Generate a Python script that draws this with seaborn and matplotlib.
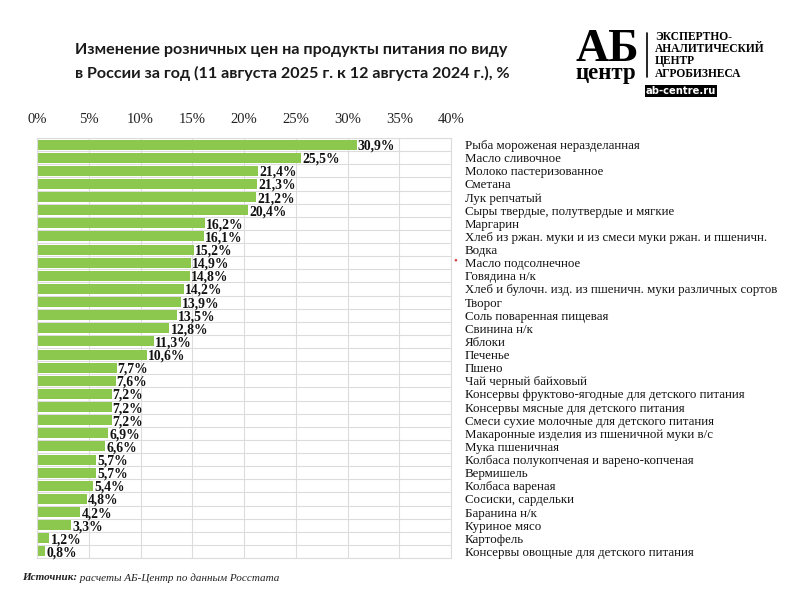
import matplotlib
matplotlib.use("Agg")
import matplotlib.pyplot as plt
import seaborn as sns
import pandas as pd
import numpy as np
from matplotlib.patches import Rectangle

categories = [
    "Рыба мороженая неразделанная",
    "Масло сливочное",
    "Молоко пастеризованное",
    "Сметана",
    "Лук репчатый",
    "Сыры твердые, полутвердые и мягкие",
    "Маргарин",
    "Хлеб из ржан. муки и из смеси муки ржан. и пшеничн.",
    "Водка",
    "Масло подсолнечное",
    "Говядина н/к",
    "Хлеб и булочн. изд. из пшеничн. муки различных сортов",
    "Творог",
    "Соль поваренная пищевая",
    "Свинина н/к",
    "Яблоки",
    "Печенье",
    "Пшено",
    "Чай черный байховый",
    "Консервы фруктово-ягодные для детского питания",
    "Консервы мясные для детского питания",
    "Смеси сухие молочные для детского питания",
    "Макаронные изделия из пшеничной муки в/с",
    "Мука пшеничная",
    "Колбаса полукопченая и варено-копченая",
    "Вермишель",
    "Колбаса вареная",
    "Сосиски, сардельки",
    "Баранина н/к",
    "Куриное мясо",
    "Картофель",
    "Консервы овощные для детского питания",
]
values = [30.9, 25.5, 21.4, 21.3, 21.2, 20.4, 16.2, 16.1, 15.2, 14.9, 14.8, 14.2,
          13.9, 13.5, 12.8, 11.3, 10.6, 7.7, 7.6, 7.2, 7.2, 7.2, 6.9, 6.6,
          5.7, 5.7, 5.4, 4.8, 4.2, 3.3, 1.2, 0.8]
x_ticks = [0, 5, 10, 15, 20, 25, 30, 35, 40]
x_tick_labels = ["0%", "5%", "10%", "15%", "20%", "25%", "30%", "35%", "40%"]

title_lines = ["Изменение розничных цен на продукты питания по виду",
               "в России за год (11 августа 2025 г. к 12 августа 2024 г.), %"]
logo_lines = ["ЭКСПЕРТНО-", "АНАЛИТИЧЕСКИЙ", "ЦЕНТР", "АГРОБИЗНЕСА"]
source_bold = "Источник:"
source_rest = " расчеты АБ-Центр по данным Росстата"

df = pd.DataFrame({"cat": categories, "val": values})

sns.set_theme(style="white")
plt.rcParams["font.family"] = ["Liberation Serif", "DejaVu Serif"]

fig = plt.figure(figsize=(8, 5.96), dpi=100)
ax = fig.add_axes([37 / 800, 1 - 558 / 596, (451 - 37) / 800, (558 - 138) / 596])

sns.barplot(data=df, x="val", y="cat", orient="h", color="#8DC84E",
            saturation=1, width=0.76, ax=ax, edgecolor="none")

ax.set_xlim(0, 40)
ax.set_ylim(len(categories) - 0.5, -0.5)
ax.set_xlabel("")
ax.set_ylabel("")

ax.xaxis.tick_top()
ax.set_xticks(x_ticks)
ax.set_xticklabels(x_tick_labels, fontsize=10.5, color="#222222")
ax.tick_params(axis="x", length=0, pad=9)

ax.yaxis.tick_right()
ax.set_yticks(range(len(categories)))
ax.set_yticklabels(categories, fontsize=9.3, color="#111111")
ax.tick_params(axis="y", length=0, pad=10)

# grid
ax.set_yticks(np.arange(-0.5, len(categories), 1), minor=True)
ax.tick_params(axis="y", which="minor", length=0)
ax.grid(False)
ax.grid(axis="x", which="major", color="#dcdcdc", linewidth=0.8)
ax.grid(axis="y", which="minor", color="#dcdcdc", linewidth=0.8)
ax.set_axisbelow(True)
for s in ax.spines.values():
    s.set_color("#dcdcdc")
    s.set_linewidth(0.8)

# value labels
for i, v in enumerate(values):
    ax.text(v + 0.1, i + 0.12, f"{v:.1f}%".replace(".", ","), ha="left", va="center",
            fontsize=9.8, fontweight="bold", color="#111111")

# small red marker near "Масло подсолнечное"
ax.text(40.45, categories.index("Масло подсолнечное") - 0.1, "•", color="#d04040",
        fontsize=8, ha="center", va="center", clip_on=False)

# title
for k, line in enumerate(title_lines):
    fig.text(75 / 800, 1 - (50 + 23 * k) / 596, line, fontsize=11.6, fontweight="bold",
             family=["Lato", "DejaVu Sans"], ha="left", va="center", color="#1a1a1a")

# logo
fig.text(576 / 800, 1 - 61 / 596, "АБ", fontsize=33, fontweight="bold",
         family=["Liberation Serif"], ha="left", va="baseline", color="black")
fig.text(575 / 800, 1 - 79 / 596, "центр", fontsize=16.5, fontweight="bold",
         family=["Liberation Serif"], ha="left", va="baseline", color="black")
fig.add_artist(plt.Line2D([647 / 800, 647 / 800], [1 - 33 / 596, 1 - 77 / 596],
                          color="black", linewidth=1.2, transform=fig.transFigure))
for j, t in enumerate(logo_lines):
    fig.text(655 / 800, 1 - (37 + j * 12.2) / 596, t, fontsize=8.3, fontweight="bold",
             family=["Liberation Serif"], ha="left", va="center", color="black")
fig.add_artist(Rectangle((645 / 800, 1 - 97 / 596), 72 / 800, 12 / 596,
                         transform=fig.transFigure, facecolor="black", edgecolor="none"))
fig.text(681 / 800, 1 - 91 / 596, "ab-centre.ru", fontsize=7.2, fontweight="bold",
         family=["DejaVu Sans"], ha="center", va="center", color="white")

# source
t1 = fig.text(22 / 800, 1 - 578 / 596, source_bold, fontsize=8, style="italic",
              fontweight="bold", ha="left", va="center", color="#222222")
fig.canvas.draw()
bb = t1.get_window_extent()
fig.text(bb.x1 / 800, 1 - 578 / 596, source_rest, fontsize=8, style="italic",
         ha="left", va="center", color="#222222")

fig.savefig("out.png", dpi=100)
